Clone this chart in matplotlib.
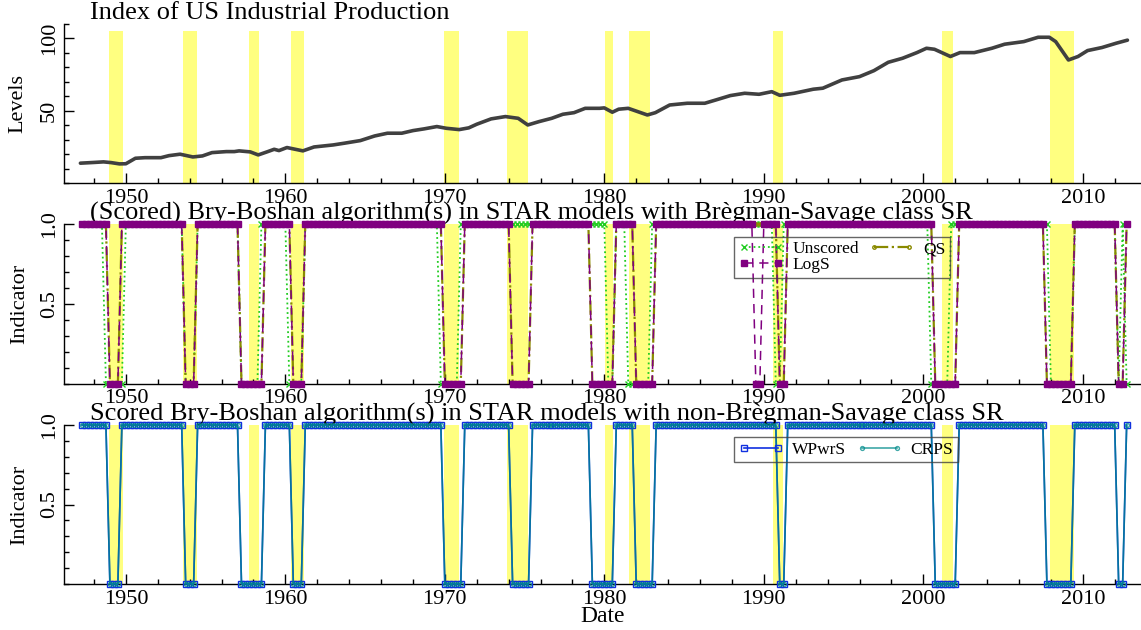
import numpy as np
import matplotlib
matplotlib.use('Agg')
import matplotlib.pyplot as plt
from matplotlib.ticker import MultipleLocator, FixedLocator

plt.rcParams['font.family'] = ['Liberation Serif', 'DejaVu Serif']

# index of US industrial production
ip_year = [1947.15, 1948.0, 1948.6, 1949.07, 1949.6, 1950.0, 1950.6, 1951.2, 1952.2, 1952.7,
           1953.4, 1954.2, 1954.8, 1955.4, 1956.3, 1956.8, 1957.1, 1957.8, 1958.3, 1958.9,
           1959.3, 1959.6, 1960.1, 1961.1, 1961.8, 1963.0, 1963.7, 1964.7, 1965.6, 1966.4,
           1967.3, 1968.0, 1968.7, 1969.5, 1970.1, 1970.9, 1971.5, 1972.0, 1972.9, 1973.8,
           1974.6, 1975.2, 1975.9, 1976.7, 1977.4, 1978.1, 1978.8, 1979.7, 1980.0, 1980.5,
           1980.9, 1981.5, 1982.1, 1982.7, 1983.2, 1984.1, 1985.2, 1986.3, 1987.0, 1987.9,
           1988.8, 1989.7, 1990.5, 1991.0, 1991.9, 1993.1, 1993.7, 1994.9, 1996.0, 1996.9,
           1997.8, 1998.7, 1999.6, 2000.2, 2000.7, 2001.7, 2002.3, 2003.2, 2004.3, 2005.1,
           2006.3, 2007.2, 2007.9, 2008.3, 2009.1, 2009.7, 2010.3, 2011.2, 2012.1, 2012.8]
ip_value = [13.7, 14.2, 14.6, 14.1, 13.2, 13.3, 17.1, 17.5, 17.5, 18.9,
            19.9, 18.0, 18.7, 21.0, 21.7, 21.7, 22.2, 21.5, 19.4, 21.7,
            23.3, 22.4, 24.5, 22.2, 24.9, 26.3, 27.5, 29.3, 32.5, 34.4,
            34.4, 36.2, 37.4, 39.0, 37.8, 36.9, 38.1, 40.6, 44.3, 45.9,
            44.7, 40.1, 42.4, 44.7, 47.5, 48.6, 51.6, 51.6, 51.9, 48.9,
            51.0, 51.6, 49.3, 47.0, 48.6, 53.9, 55.1, 55.1, 57.4, 60.4,
            62.0, 61.3, 63.1, 60.6, 62.0, 64.8, 65.5, 71.2, 73.5, 77.6,
            83.4, 86.2, 90.1, 93.1, 92.4, 87.4, 90.1, 90.1, 93.1, 95.9,
            97.7, 100.7, 100.7, 97.7, 85.0, 87.4, 91.5, 93.6, 96.6, 98.7]

# NBER recessions (shaded)
rec_start = [1948.92, 1953.6, 1957.7, 1960.35, 1969.92, 1973.9, 1980.05, 1981.55, 1990.55, 2001.2, 2007.92]
rec_end = [1949.85, 1954.45, 1958.35, 1961.2, 1970.9, 1975.2, 1980.55, 1982.85, 1991.2, 2001.85, 2009.45]

# quarterly dates of the indicator series
q_first, q_last = 1947.25, 2012.75

# quarters where each algorithm signals recession (indicator = 0), first..last quarter
unscored_off_start = [1948.75, 1953.75, 1957.25, 1960.25, 1969.75, 1980.25, 1981.5, 1990.75, 2000.5, 2008.0, 2012.25, 2012.75]
unscored_off_end = [1949.75, 1954.25, 1958.25, 1961.0, 1970.75, 1980.5, 1982.75, 1991.0, 2001.5, 2009.25, 2012.25, 2012.75]
logs_off_start = [1949.0, 1953.75, 1957.25, 1960.5, 1970.0, 1974.25, 1979.25, 1982.0, 1989.5, 1991.0, 2000.75, 2007.75, 2012.25]
logs_off_end = [1949.5, 1954.25, 1958.5, 1961.0, 1971.0, 1975.25, 1980.5, 1983.0, 1989.75, 1991.25, 2002.0, 2009.25, 2012.5]
qs_off_start = [1949.0, 1953.75, 1957.25, 1960.5, 1970.0, 1974.25, 1979.25, 1982.0, 1991.0, 2000.75, 2007.75, 2012.25]
qs_off_end = [1949.5, 1954.25, 1958.5, 1961.0, 1971.0, 1975.25, 1980.5, 1983.0, 1991.25, 2002.0, 2009.25, 2012.5]
wpwrs_off_start = qs_off_start
wpwrs_off_end = qs_off_end
crps_off_start = qs_off_start
crps_off_end = qs_off_end


def indicator(dates, starts, ends):
    ind = np.ones(len(dates))
    for s, e in zip(starts, ends):
        ind[(dates >= s - 1e-6) & (dates <= e + 1e-6)] = 0.0
    return ind


dates = np.arange(q_first, q_last + 0.01, 0.25)

W, H = 1141, 630
fig = plt.figure(figsize=(W / 100, H / 100), dpi=100)

left = 64.3 / W
width = 1 - left


def make_ax(top_px, bottom_px):
    return fig.add_axes([left, 1 - bottom_px / H, width, (bottom_px - top_px) / H])


ax1 = make_ax(23.8, 183.0)
ax2 = make_ax(224.0, 383.5)
ax3 = make_ax(425.0, 584.0)

xlim = (1946.14, 2013.65)
yellow = '#ffff80'
tick_fs = 16
title_fs = 19

for ax in (ax1, ax2, ax3):
    ax.set_xlim(*xlim)
    for s in ('top', 'right'):
        ax.spines[s].set_visible(False)
    ax.spines['left'].set_linewidth(1.0)
    ax.spines['bottom'].set_linewidth(1.0)
    ax.xaxis.set_major_locator(MultipleLocator(10))
    ax.xaxis.set_minor_locator(MultipleLocator(2))
    ax.tick_params(which='major', direction='in', length=7, width=1, labelsize=tick_fs, pad=4)
    ax.tick_params(which='minor', direction='in', length=3.5, width=1)
    ax.tick_params(axis='y', labelrotation=90)
    for t in ax.get_yticklabels():
        t.set_va('center')

legend_kw = dict(loc='upper left', ncol=2, numpoints=2, fontsize=12.5, handlelength=2.6,
                 handletextpad=0.5, columnspacing=0.6, labelspacing=0.0, borderpad=0.25,
                 borderaxespad=0.0, fancybox=False, edgecolor='#404040',
                 facecolor='none', framealpha=None)

# top panel
ax1.set_ylim(0, 110)
for s, e in zip(rec_start, rec_end):
    ax1.axvspan(s, e, ymin=0, ymax=105 / 110, color=yellow, lw=0, zorder=0)
ax1.plot(ip_year, ip_value, color='#404040', lw=2.6, solid_capstyle='round', zorder=3)
ax1.yaxis.set_major_locator(FixedLocator([50, 100]))
ax1.yaxis.set_minor_locator(MultipleLocator(10))
ax1.set_ylabel('Levels', fontsize=16)
ax1.yaxis.set_label_coords(-0.034, 0.5)
ax1.text(0.0239, 1.03, 'Index of US Industrial Production', transform=ax1.transAxes,
         ha='left', va='baseline', fontsize=title_fs)

# middle panel
unscored = indicator(dates, unscored_off_start, unscored_off_end)
logs = indicator(dates, logs_off_start, logs_off_end)
qs = indicator(dates, qs_off_start, qs_off_end)

ax2.set_ylim(0, 1.0)
for s, e in zip(rec_start, rec_end):
    ax2.axvspan(s, e, color=yellow, lw=0, zorder=0)
h_un, = ax2.plot(dates, unscored, color='#22cc22', ls=':', lw=1.3, marker='x', ms=4, mew=1,
                 clip_on=False, zorder=3, label='Unscored')
h_qs, = ax2.plot(dates, qs, color='#8a8a00', ls='-.', lw=1.6, marker='o', ms=2.5, mfc='none',
                 mew=1, clip_on=False, zorder=4, label='QS')
h_lg, = ax2.plot(dates, logs, color='#800080', ls=(0, (6, 4)), lw=1.1, marker='s', ms=4.6,
                 mec='#800080', mfc='#800080', clip_on=False, zorder=5, label='LogS')
ax2.yaxis.set_major_locator(FixedLocator([0.5, 1.0]))
ax2.yaxis.set_minor_locator(MultipleLocator(0.1))
ax2.set_ylabel('Indicator', fontsize=16)
ax2.yaxis.set_label_coords(-0.033, 0.5)
ax2.text(0.0239, 1.025,
         '(Scored) Bry-Boshan algorithm(s) in STAR models with Brègman-Savage class SR',
         transform=ax2.transAxes, ha='left', va='baseline', fontsize=title_fs)
leg2 = ax2.legend(handles=[h_un, h_lg, h_qs], bbox_to_anchor=(0.622, 0.92), **legend_kw)
leg2.get_frame().set_linewidth(1.0)

# bottom panel
wpwrs = indicator(dates, wpwrs_off_start, wpwrs_off_end)
crps = indicator(dates, crps_off_start, crps_off_end)

ax3.set_ylim(0, 1.0)
for s, e in zip(rec_start, rec_end):
    ax3.axvspan(s, e, color=yellow, lw=0, zorder=0)
ax3.plot(dates, wpwrs, color='#1030e0', lw=1.2, marker='s', ms=4.2, mfc='none', mew=1,
         clip_on=False, zorder=3, label='WPwrS')
ax3.plot(dates, crps, color='#008b8b', lw=1.2, alpha=0.75, marker='o', ms=2.8, mfc='none',
         mew=1, clip_on=False, zorder=4, label='CRPS')
ax3.yaxis.set_major_locator(FixedLocator([0.5, 1.0]))
ax3.yaxis.set_minor_locator(MultipleLocator(0.1))
ax3.set_ylabel('Indicator', fontsize=16)
ax3.yaxis.set_label_coords(-0.033, 0.5)
ax3.set_xlabel('Date', fontsize=17, labelpad=-2)
ax3.text(0.0239, 1.027,
         'Scored Bry-Boshan algorithm(s) in STAR models with non-Brègman-Savage class SR',
         transform=ax3.transAxes, ha='left', va='baseline', fontsize=title_fs)
leg3 = ax3.legend(bbox_to_anchor=(0.622, 0.9226), **legend_kw)
leg3.get_frame().set_linewidth(1.0)

fig.savefig('out.png', dpi=100)
